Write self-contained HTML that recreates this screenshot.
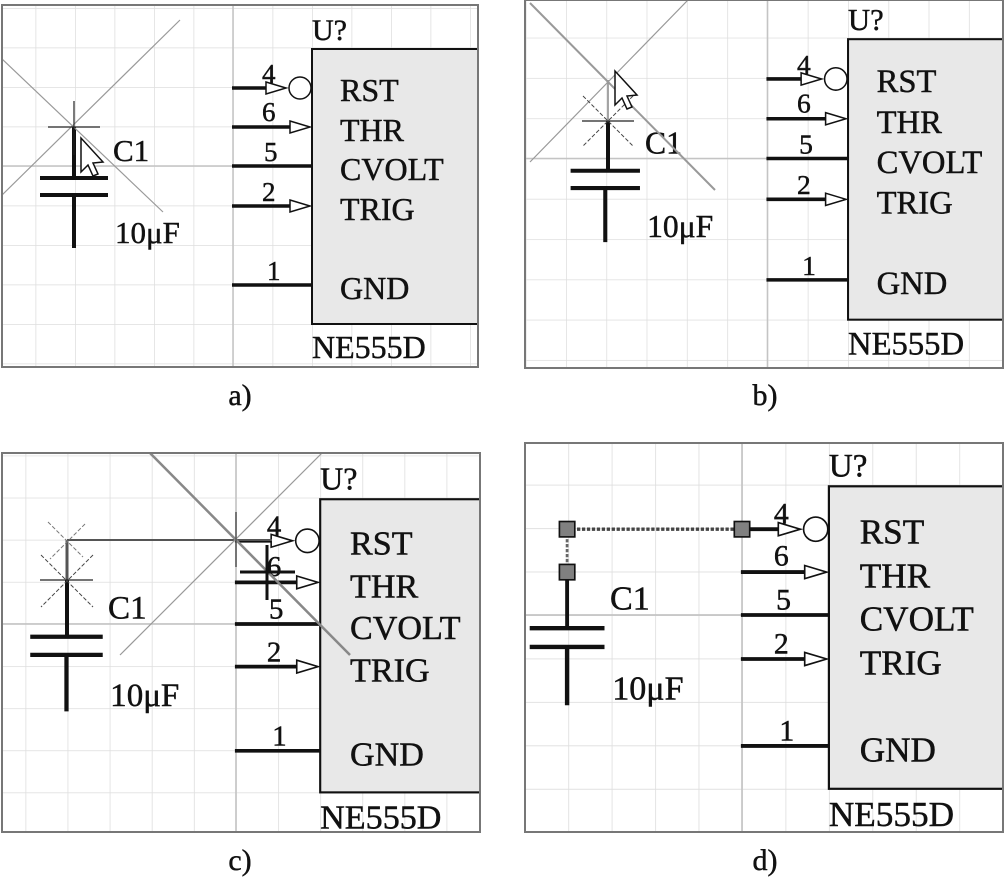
<!DOCTYPE html>
<html><head><meta charset="utf-8"><style>
html,body{margin:0;padding:0;background:#fff;width:1006px;height:881px;overflow:hidden}
svg{display:block}
text{font-family:"Liberation Serif",serif;fill:#111;stroke:#111;stroke-width:0.45}
.n{font-size:32px}
.p{font-size:27px}
.c{font-size:31px}
.u{font-size:30px}
.cap{font-size:30px;stroke-width:0.3}
</style></head><body>
<svg width="1006" height="881" viewBox="0 0 1006 881" xmlns="http://www.w3.org/2000/svg">
<defs>
<pattern id="gp" patternUnits="userSpaceOnUse" x="35.5" y="8" width="39.5" height="39.5">
<path d="M0 0H39.5M0 0V39.5" stroke="#dedede" stroke-width="1.5" fill="none"/>
</pattern>
<clipPath id="ca"><rect x="2" y="5" width="476" height="362"/></clipPath>
<clipPath id="cb"><rect x="525" y="0" width="478" height="368"/></clipPath>
<clipPath id="cc"><rect x="2" y="453" width="478" height="379"/></clipPath>
<clipPath id="cd"><rect x="525" y="443" width="478" height="389"/></clipPath>
</defs>
<rect width="1006" height="881" fill="#fff"/>

<!-- ========== PANEL A ========== -->
<g clip-path="url(#ca)">
<g transform="translate(0,0) scale(1)">
<rect x="-100" y="-100" width="800" height="600" fill="url(#gp)"/>
<line x1="233" y1="-100" x2="233" y2="500" stroke="#c4c4c4" stroke-width="1.5"/>
<line x1="-100" y1="166" x2="700" y2="166" stroke="#c4c4c4" stroke-width="1.5"/>
<rect x="312" y="49" width="220" height="275" fill="#e8e8e8" stroke="#111" stroke-width="2"/>
<text x="312" y="40" class="u">U?</text>
<text x="340" y="101" class="n">RST</text>
<text x="340" y="141" class="n">THR</text>
<text x="340" y="180" class="n">CVOLT</text>
<text x="340" y="220" class="n">TRIG</text>
<text x="340" y="299" class="n">GND</text>
<text x="312" y="358" class="n">NE555D</text>
<g stroke="#111" stroke-width="3.5" fill="none">
<line x1="232" y1="88" x2="266" y2="88"/>
<line x1="232" y1="127" x2="290" y2="127"/>
<line x1="232" y1="166" x2="312" y2="166"/>
<line x1="232" y1="206" x2="290" y2="206"/>
<line x1="232" y1="285" x2="312" y2="285"/>
</g>
<g stroke="#111" stroke-width="1.5" fill="#fff">
<polygon points="266,82 286,88 266,94"/>
<circle cx="300" cy="88" r="11"/>
<polygon points="290,121 310,127 290,133"/>
<polygon points="290,200 310,206 290,212"/>
</g>
<g class="p">
<text x="262" y="83">4</text><text x="262" y="121">6</text><text x="264" y="161">5</text><text x="262" y="201">2</text><text x="267" y="280">1</text>
</g>
<text x="113" y="161" class="c">C1</text>
<text x="115" y="243" class="c">10μF</text>
<g stroke="#111" stroke-width="4">
<line x1="40" y1="178" x2="108" y2="178"/><line x1="40" y1="195" x2="108" y2="195"/>
<line x1="74" y1="195" x2="74" y2="248"/>
</g>
</g>
<line x1="74" y1="127" x2="74" y2="178" stroke="#111" stroke-width="4"/>
<line x1="0" y1="57" x2="163" y2="212" stroke="#999" stroke-width="1.2"/>
<line x1="180" y1="20" x2="0" y2="197" stroke="#999" stroke-width="1.2"/>
<line x1="48" y1="127" x2="100" y2="127" stroke="#222" stroke-width="1.2"/>
<line x1="74" y1="101" x2="74" y2="155" stroke="#222" stroke-width="1.2"/>
<polygon points="81,138 81,172 88,165 93,176 98,174 93,163 103,162" fill="#fff" stroke="#111" stroke-width="1.5"/>
</g>
<rect x="2" y="5" width="476" height="362" fill="none" stroke="#777" stroke-width="2"/>

<!-- ========== PANEL B ========== -->
<g clip-path="url(#cb)">
<g transform="translate(529.8,-10.8) scale(1.02)">
<rect x="-100" y="-100" width="800" height="600" fill="url(#gp)"/>
<line x1="233" y1="-100" x2="233" y2="500" stroke="#c4c4c4" stroke-width="1.5"/>
<line x1="-100" y1="166" x2="700" y2="166" stroke="#c4c4c4" stroke-width="1.5"/>
<rect x="312" y="49" width="220" height="275" fill="#e8e8e8" stroke="#111" stroke-width="2"/>
<text x="312" y="40" class="u">U?</text>
<text x="340" y="101" class="n">RST</text>
<text x="340" y="141" class="n">THR</text>
<text x="340" y="180" class="n">CVOLT</text>
<text x="340" y="220" class="n">TRIG</text>
<text x="340" y="299" class="n">GND</text>
<text x="312" y="358" class="n">NE555D</text>
<g stroke="#111" stroke-width="3.5" fill="none">
<line x1="232" y1="88" x2="266" y2="88"/>
<line x1="232" y1="127" x2="290" y2="127"/>
<line x1="232" y1="166" x2="312" y2="166"/>
<line x1="232" y1="206" x2="290" y2="206"/>
<line x1="232" y1="285" x2="312" y2="285"/>
</g>
<g stroke="#111" stroke-width="1.5" fill="#fff">
<polygon points="266,82 286,88 266,94"/>
<circle cx="300" cy="88" r="11"/>
<polygon points="290,121 310,127 290,133"/>
<polygon points="290,200 310,206 290,212"/>
</g>
<g class="p">
<text x="262" y="83">4</text><text x="262" y="121">6</text><text x="264" y="161">5</text><text x="262" y="201">2</text><text x="267" y="280">1</text>
</g>
<text x="113" y="161" class="c">C1</text>
<text x="115" y="243" class="c">10μF</text>
<g stroke="#111" stroke-width="4">
<line x1="40" y1="178" x2="108" y2="178"/><line x1="40" y1="195" x2="108" y2="195"/>
<line x1="74" y1="195" x2="74" y2="248"/>
</g>
</g>
<line x1="608" y1="121" x2="608" y2="172" stroke="#111" stroke-width="4"/>
<line x1="608" y1="80" x2="608" y2="121" stroke="#888" stroke-width="1.5"/>
<line x1="530" y1="3" x2="715" y2="190" stroke="#999" stroke-width="2"/>
<line x1="530" y1="162" x2="688" y2="0" stroke="#999" stroke-width="1.2"/>
<line x1="582" y1="121" x2="634" y2="121" stroke="#222" stroke-width="1.2"/>
<line x1="583" y1="96" x2="633" y2="146" stroke="#444" stroke-width="1" stroke-dasharray="4,2"/>
<line x1="633" y1="96" x2="583" y2="146" stroke="#444" stroke-width="1" stroke-dasharray="4,2"/>
<polygon points="615,71 615,105 622,98 627,109 632,107 627,96 637,95" fill="#fff" stroke="#111" stroke-width="1.5"/>
</g>
<rect x="525" y="0" width="478" height="368" fill="none" stroke="#777" stroke-width="2"/>

<!-- ========== PANEL C ========== -->
<g clip-path="url(#cc)">
<g transform="translate(-12.4,447) scale(1.066)">
<rect x="-100" y="-100" width="800" height="600" fill="url(#gp)"/>
<line x1="233" y1="-100" x2="233" y2="500" stroke="#c4c4c4" stroke-width="1.5"/>
<line x1="-100" y1="166" x2="700" y2="166" stroke="#c4c4c4" stroke-width="1.5"/>
<rect x="312" y="49" width="220" height="275" fill="#e8e8e8" stroke="#111" stroke-width="2"/>
<text x="312" y="40" class="u">U?</text>
<text x="340" y="101" class="n">RST</text>
<text x="340" y="141" class="n">THR</text>
<text x="340" y="180" class="n">CVOLT</text>
<text x="340" y="220" class="n">TRIG</text>
<text x="340" y="299" class="n">GND</text>
<text x="312" y="358" class="n">NE555D</text>
<g stroke="#111" stroke-width="3.5" fill="none">
<line x1="232" y1="88" x2="266" y2="88"/>
<line x1="232" y1="127" x2="290" y2="127"/>
<line x1="232" y1="166" x2="312" y2="166"/>
<line x1="232" y1="206" x2="290" y2="206"/>
<line x1="232" y1="285" x2="312" y2="285"/>
</g>
<g stroke="#111" stroke-width="1.5" fill="#fff">
<polygon points="266,82 286,88 266,94"/>
<circle cx="300" cy="88" r="11"/>
<polygon points="290,121 310,127 290,133"/>
<polygon points="290,200 310,206 290,212"/>
</g>
<g class="p">
<text x="262" y="83">4</text><text x="262" y="121">6</text><text x="264" y="161">5</text><text x="262" y="201">2</text><text x="267" y="280">1</text>
</g>
<text x="113" y="161" class="c">C1</text>
<text x="115" y="243" class="c">10μF</text>
<g stroke="#111" stroke-width="4">
<line x1="40" y1="178" x2="108" y2="178"/><line x1="40" y1="195" x2="108" y2="195"/>
<line x1="74" y1="195" x2="74" y2="248"/>
</g>
</g>
<line x1="67" y1="580" x2="67" y2="637" stroke="#111" stroke-width="4"/>
<line x1="67" y1="540" x2="67" y2="580" stroke="#555" stroke-width="3"/>
<line x1="67" y1="540" x2="272" y2="540" stroke="#555" stroke-width="2"/>
<line x1="150" y1="453" x2="350" y2="655" stroke="#888" stroke-width="2.5"/>
<line x1="120" y1="655" x2="322" y2="453" stroke="#999" stroke-width="1.2"/>
<line x1="40" y1="580" x2="93" y2="580" stroke="#222" stroke-width="1.2"/>
<line x1="41" y1="555" x2="93" y2="607" stroke="#444" stroke-width="1" stroke-dasharray="4,2"/>
<line x1="93" y1="555" x2="41" y2="607" stroke="#444" stroke-width="1" stroke-dasharray="4,2"/>
<line x1="48" y1="522" x2="83" y2="557" stroke="#777" stroke-width="1" stroke-dasharray="4,2"/>
<line x1="85" y1="524" x2="50" y2="559" stroke="#777" stroke-width="1" stroke-dasharray="4,2"/>
<line x1="236" y1="512" x2="236" y2="567" stroke="#555" stroke-width="1.5"/>
<line x1="267" y1="545" x2="267" y2="600" stroke="#111" stroke-width="3"/>
<line x1="240" y1="572" x2="295" y2="572" stroke="#111" stroke-width="3"/>
</g>
<rect x="2" y="453" width="478" height="379" fill="none" stroke="#777" stroke-width="2"/>

<!-- ========== PANEL D ========== -->
<g clip-path="url(#cd)">
<g transform="translate(485.7,432.4) scale(1.1)">
<rect x="-100" y="-100" width="800" height="600" fill="url(#gp)"/>
<line x1="233" y1="-100" x2="233" y2="500" stroke="#c4c4c4" stroke-width="1.5"/>
<line x1="-100" y1="166" x2="700" y2="166" stroke="#c4c4c4" stroke-width="1.5"/>
<rect x="312" y="49" width="220" height="275" fill="#e8e8e8" stroke="#111" stroke-width="2"/>
<text x="312" y="40" class="u">U?</text>
<text x="340" y="101" class="n">RST</text>
<text x="340" y="141" class="n">THR</text>
<text x="340" y="180" class="n">CVOLT</text>
<text x="340" y="220" class="n">TRIG</text>
<text x="340" y="299" class="n">GND</text>
<text x="312" y="358" class="n">NE555D</text>
<g stroke="#111" stroke-width="3.5" fill="none">
<line x1="232" y1="88" x2="266" y2="88"/>
<line x1="232" y1="127" x2="290" y2="127"/>
<line x1="232" y1="166" x2="312" y2="166"/>
<line x1="232" y1="206" x2="290" y2="206"/>
<line x1="232" y1="285" x2="312" y2="285"/>
</g>
<g stroke="#111" stroke-width="1.5" fill="#fff">
<polygon points="266,82 286,88 266,94"/>
<circle cx="300" cy="88" r="11"/>
<polygon points="290,121 310,127 290,133"/>
<polygon points="290,200 310,206 290,212"/>
</g>
<g class="p">
<text x="262" y="83">4</text><text x="262" y="121">6</text><text x="264" y="161">5</text><text x="262" y="201">2</text><text x="267" y="280">1</text>
</g>
<text x="113" y="161" class="c">C1</text>
<text x="115" y="243" class="c">10μF</text>
<g stroke="#111" stroke-width="4">
<line x1="40" y1="178" x2="108" y2="178"/><line x1="40" y1="195" x2="108" y2="195"/>
<line x1="74" y1="195" x2="74" y2="248"/>
</g>
<line x1="74" y1="127" x2="74" y2="178" stroke="#111" stroke-width="3.5"/>
<line x1="74" y1="88" x2="74" y2="127" stroke="#666" stroke-width="2.5" stroke-dasharray="3,1.5"/>
<line x1="74" y1="88" x2="233" y2="88" stroke="#444" stroke-width="3" stroke-dasharray="3,1.5"/>
<g fill="#808080" stroke="#111" stroke-width="1.5">
<rect x="67" y="81" width="14" height="14"/>
<rect x="67" y="120" width="14" height="14"/>
<rect x="226" y="81" width="14" height="14"/>
</g>
</g>
</g>
<rect x="525" y="443" width="478" height="389" fill="none" stroke="#777" stroke-width="2"/>

<!-- captions -->
<g class="cap" text-anchor="middle">
<text x="240" y="405">a)</text>
<text x="765" y="405">b)</text>
<text x="240" y="870">c)</text>
<text x="765" y="870">d)</text>
</g>
</svg>
</body></html>
